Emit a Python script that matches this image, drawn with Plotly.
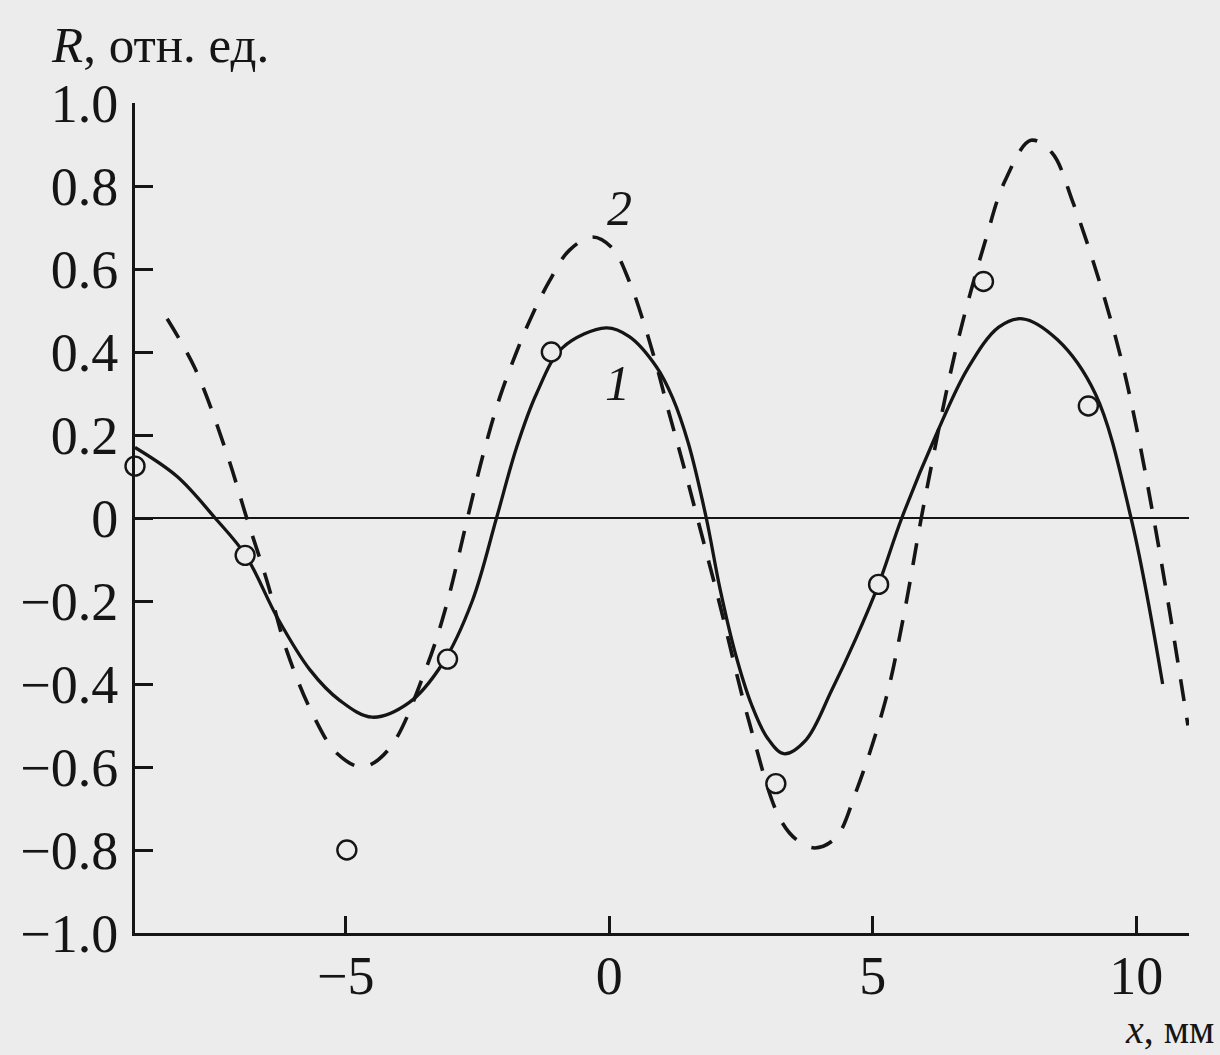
import plotly.graph_objects as go

# Curve 1 (solid): points
x1 = [-9.0, -8.2, -7.48, -6.9, -6.3, -5.68, -5.11, -4.5, -3.8, -3.16, -2.6, -2.14, -1.76, -1.38,
      -0.89, -0.06, 0.38, 0.89, 1.2, 1.5, 1.84, 2.1, 2.4, 2.7, 3.0, 3.31, 3.73, 4.22, 4.68, 5.11,
      5.55, 6.2, 6.8, 7.39, 7.84, 8.5, 9.22, 9.9, 10.5]
y1 = [0.17, 0.10, 0.0, -0.09, -0.24, -0.366, -0.44, -0.48, -0.445, -0.35, -0.2, 0.0, 0.17, 0.30,
      0.41, 0.458, 0.437, 0.365, 0.29, 0.18, 0.0, -0.17, -0.33, -0.45, -0.53, -0.568, -0.535, -0.415,
      -0.29, -0.16, 0.0, 0.2, 0.36, 0.46, 0.48, 0.43, 0.30, 0.0, -0.40]

# Curve 2 (dashed)
x2 = [-8.39, -7.86, -7.27, -6.88, -6.5, -6.12, -5.62, -5.17, -4.68, -4.17, -3.47, -3.09, -2.69,
      -2.4, -2.08, -1.76, -1.46, -1.14, -0.76, -0.32, 0.06, 0.38, 0.63, 0.89, 1.14, 1.38, 1.67,
      2.08, 2.65, 3.22, 3.55, 3.9, 4.3, 4.68, 5.24, 5.58, 5.92, 6.15, 6.44, 6.7, 7.14, 7.5, 8.0,
      8.4, 8.8, 9.3, 9.7, 10.0, 10.3, 10.6, 10.98]
y2 = [0.48, 0.36, 0.16, 0.0, -0.15, -0.32, -0.475, -0.567, -0.60, -0.555, -0.36, -0.21, 0.0,
      0.15, 0.29, 0.40, 0.49, 0.57, 0.645, 0.677, 0.65, 0.57, 0.48, 0.37, 0.25, 0.14, 0.0,
      -0.2, -0.49, -0.72, -0.775, -0.795, -0.77, -0.66, -0.44, -0.24, 0.0, 0.15, 0.33, 0.47, 0.67,
      0.81, 0.91, 0.88, 0.76, 0.57, 0.39, 0.22, 0.02, -0.2, -0.50]

# Measured points (open circles)
xp = [-9.0, -6.91, -4.98, -3.07, -1.1, 3.16, 5.11, 7.1, 9.09]
yp = [0.125, -0.09, -0.80, -0.34, 0.40, -0.64, -0.16, 0.57, 0.27]

xticks = [-5, 0, 5, 10]
xtick_text = ["\u22125", "0", "5", "10"]
yticks = [1.0, 0.8, 0.6, 0.4, 0.2, 0.0, -0.2, -0.4, -0.6, -0.8, -1.0]
ytick_text = ["1.0", "0.8", "0.6", "0.4", "0.2", "0", "\u22120.2", "\u22120.4", "\u22120.6",
              "\u22120.8", "\u22121.0"]

BG = "#ececec"
INK = "#151515"
FONT = "Liberation Serif"

fig = go.Figure()
fig.add_trace(go.Scatter(x=x2, y=y2, mode="lines",
                         line=dict(color=INK, width=3.6, dash="22px,17px", shape="spline", smoothing=1.0),
                         cliponaxis=False, showlegend=False, hoverinfo="skip"))
fig.add_trace(go.Scatter(x=x1, y=y1, mode="lines",
                         line=dict(color=INK, width=3.3, shape="spline", smoothing=1.0),
                         cliponaxis=False, showlegend=False, hoverinfo="skip"))
fig.add_trace(go.Scatter(x=xp, y=yp, mode="markers",
                         marker=dict(symbol="circle", size=19, color=BG, line=dict(color=INK, width=2.4)),
                         cliponaxis=False, showlegend=False))

fig.update_layout(
    width=1220, height=1055,
    margin=dict(l=135, r=31, t=103, b=122),
    paper_bgcolor=BG, plot_bgcolor=BG,
    font=dict(family=FONT, size=54, color=INK),
    xaxis=dict(range=[-9, 11], tickvals=xticks, ticktext=xtick_text, ticks="inside", ticklen=17,
               tickwidth=3, tickcolor=INK, showline=True, linecolor=INK, linewidth=3,
               showgrid=False, zeroline=False, ticklabelstandoff=-7),
    yaxis=dict(range=[-1, 1], tickvals=yticks, ticktext=ytick_text, ticks="inside", ticklen=18,
               tickwidth=3, tickcolor=INK, showline=True, linecolor=INK, linewidth=3,
               showgrid=False, zeroline=True, zerolinecolor=INK, zerolinewidth=2,
               ticklabelstandoff=3),
)

fig.add_annotation(text="<i>R</i>, отн. ед.", xref="paper", yref="paper", x=-0.082, y=1.07,
                   xanchor="left", yanchor="middle", showarrow=False, font=dict(size=51))
fig.add_annotation(text="<i>x</i>, мм", xref="paper", yref="paper", x=1.026, y=-0.146,
                   xanchor="right", yanchor="bottom", showarrow=False, font=dict(size=40))
fig.add_annotation(text="<i>2</i>", x=0.19, y=0.747, showarrow=False, font=dict(size=50))
fig.add_annotation(text="<i>1</i>", x=0.15, y=0.325, showarrow=False, font=dict(size=50))

fig.write_html("out.html", config={"displayModeBar": False},
               post_script="document.body.style.margin='0';document.body.style.background='%s';" % BG)
